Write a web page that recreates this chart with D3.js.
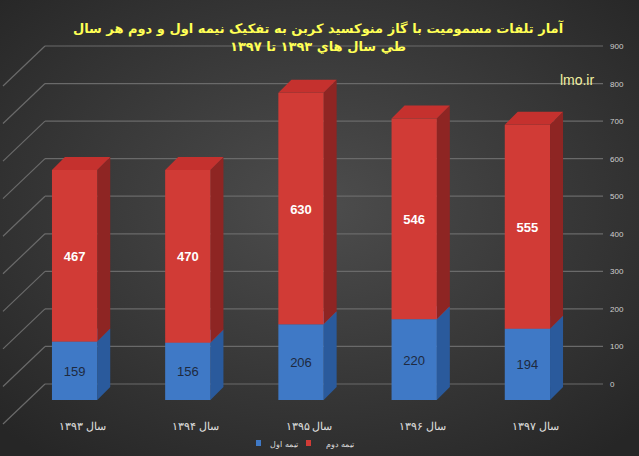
<!DOCTYPE html><html><head><meta charset="utf-8"><script src="https://cdn.jsdelivr.net/npm/d3@7"></script>
<style>body{margin:0;background:#333}</style></head><body><svg id="c" width="639" height="456"></svg><script>
const categories=["سال ۱۳۹۳","سال ۱۳۹۴","سال ۱۳۹۵","سال ۱۳۹۶","سال ۱۳۹۷"];
const firstHalf=[159,156,206,220,194];
const secondHalf=[467,470,630,546,555];
const ticks=[0,100,200,300,400,500,600,700,800,900];
const svg=d3.select("#c");
const defs=svg.append("defs");
const g=defs.append("radialGradient").attr("id","bg").attr("cx","50%").attr("cy","45%").attr("r","70%");
g.append("stop").attr("offset","0%").attr("stop-color","#4d4d4d");
g.append("stop").attr("offset","100%").attr("stop-color","#262626");
svg.append("rect").attr("width",639).attr("height",456).attr("fill","url(#bg)");
const back=d3.scaleLinear().domain([0,900]).range([384,46]);
const y=d3.scaleLinear().domain([0,626]).range([400,170]);
const x=d3.scaleBand().domain(categories).range([18,584]).paddingInner(0.6).paddingOuter(0.3);
ticks.forEach(t=>{const yy=back(t);
 svg.append("line").attr("x1",45).attr("x2",603).attr("y1",yy).attr("y2",yy).attr("stroke","#6a6a6a").attr("stroke-width",1.2);
 svg.append("line").attr("x1",45).attr("x2",3).attr("y1",yy).attr("y2",yy+40).attr("stroke","#6a6a6a").attr("stroke-width",1.2);
 svg.append("text").attr("x",610).attr("y",yy+3).attr("font-family","Liberation Sans").attr("font-size",8).attr("fill","#cfcfcf").text(t);
});
const d=13;
function box(x0,w,y0,y1,front,side,top){
 svg.append("polygon").attr("points",`${x0+w},${y0} ${x0+w+d},${y0-d} ${x0+w+d},${y1-d} ${x0+w},${y1}`).attr("fill",side);
 svg.append("polygon").attr("points",`${x0},${y1} ${x0+d},${y1-d} ${x0+w+d},${y1-d} ${x0+w},${y1}`).attr("fill",top);
 svg.append("rect").attr("x",x0).attr("y",y1).attr("width",w).attr("height",y0-y1).attr("fill",front);
}
categories.forEach((c,i)=>{
 const x0=x(c),w=x.bandwidth();
 const yb=y(firstHalf[i]),yt=y(firstHalf[i]+secondHalf[i]);
 box(x0,w,y(0),yb,"#3f79c6","#2a5a9c","#4f86d0");
 box(x0,w,yb,yt,"#d13b36","#8e2523","#c5312e");
 svg.append("text").attr("x",x0+w/2).attr("y",(y(0)+yb)/2+5).attr("text-anchor","middle").attr("font-family","Liberation Sans").attr("font-size",13).attr("fill","#1e2a40").text(firstHalf[i]);
 svg.append("text").attr("x",x0+w/2).attr("y",(yb+yt)/2+5).attr("text-anchor","middle").attr("font-family","Liberation Sans").attr("font-weight","bold").attr("font-size",13).attr("fill","#fff").text(secondHalf[i]);
 svg.append("text").attr("x",x0+w/2+8).attr("y",430).attr("text-anchor","middle").attr("font-family","Noto Sans").attr("font-size",11).attr("fill","#e0e0e0").text(c);
});
svg.append("text").attr("x",318).attr("y",33).attr("text-anchor","middle").attr("font-family","DejaVu Sans").attr("font-weight","bold").attr("font-size",13).attr("fill","#ffff55").text("آمار تلفات مسمومیت با گاز منوکسید کربن به تفکیک نیمه اول و دوم هر سال");
svg.append("text").attr("x",318).attr("y",51).attr("text-anchor","middle").attr("font-family","DejaVu Sans").attr("font-weight","bold").attr("font-size",13).attr("fill","#ffff55").text("طي سال هاي ۱۳۹۳ تا ۱۳۹۷");
svg.append("text").attr("x",577).attr("y",85).attr("text-anchor","middle").attr("font-family","Liberation Sans").attr("font-size",14).attr("fill","#f0f0a0").text("lmo.ir");
// legend
svg.append("rect").attr("x",306).attr("y",440).attr("width",5).attr("height",6).attr("fill","#d13b36");
svg.append("text").attr("x",340).attr("y",447).attr("text-anchor","middle").attr("font-family","Noto Sans").attr("font-size",8).attr("fill","#ddd").text("تیمه دوم");
svg.append("rect").attr("x",256).attr("y",440).attr("width",5).attr("height",6).attr("fill","#3f79c6");
svg.append("text").attr("x",284).attr("y",447).attr("text-anchor","middle").attr("font-family","Noto Sans").attr("font-size",8).attr("fill","#ddd").text("تیمه اول");
</script></body></html>
